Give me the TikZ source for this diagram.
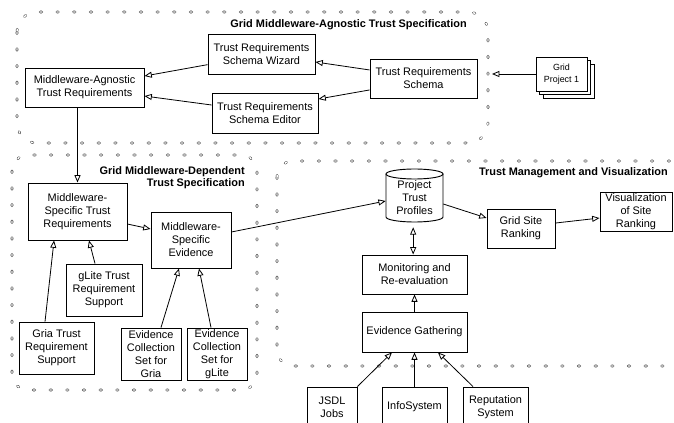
\documentclass[tikz,border=0pt]{standalone}
\usepackage{fontspec}
\setmainfont{Liberation Sans}
\usetikzlibrary{arrows.meta,calc}
\begin{document}
\begin{tikzpicture}[x=0.75pt,y=-0.75pt,
  txt/.style={font=\fontsize{8.2}{9.75}\selectfont},
  bx/.style 2 args={draw,line width=0.7pt,inner sep=0pt,align=center,fill=white,
    txt,minimum width=#1,minimum height=#2},
  ttl/.style={font=\fontsize{8.2}{8.8}\selectfont\bfseries,align=right,inner sep=0pt},
  conn/.style={line width=0.6pt,-{Triangle[open,length=5.5pt,width=4.5pt]}},
  biconn/.style={line width=0.6pt,{Triangle[open,length=5.5pt,width=4.5pt]}-{Triangle[open,length=5.5pt,width=4.5pt]}},
  dotbox/.style={draw=white,line width=1.1pt,line cap=round,dash pattern=on 1.2pt off 11.3pt,
    preaction={draw=black!80,line width=1.9pt,line cap=round,dash pattern=on 1.2pt off 11.3pt}}
]
\useasboundingbox (0,0) rectangle (674,423);
\clip (0,0) rectangle (674,423);

% dotted regions
\path[dotbox,rounded corners=15pt] (17,12) rectangle (488,143);
\path[dotbox,rounded corners=12pt] (12,155) rectangle (257,390);
\path[dotbox,rounded corners=12pt] (277,161) rectangle (720,366);

% titles
\node[ttl,anchor=east] (t1) at (467,25) {Grid Middleware-Agnostic Trust Specification};
\node[ttl,anchor=east] (t2) at (245,177.5) {Grid Middleware-Dependent\\Trust Specification};
\node[ttl,anchor=east] (t3) at (668,173) {Trust Management and Visualization};

% top region
\node[bx={80.25pt}{30pt}] (wiz) at (261.5,54) {Trust Requirements\\Schema Wizard};
\node[bx={79.5pt}{30pt}] (edit) at (265,113) {Trust Requirements\\Schema Editor};
\node[bx={89.25pt}{29.25pt}] (mat) at (84.5,87.5) {Middleware-Agnostic\\Trust Requirements};
\node[bx={80.25pt}{29.25pt}] (schema) at (423.5,78.5) {Trust Requirements\\Schema};

% grid project stack
\draw[line width=0.7pt,fill=white] (543,64) rectangle (594,98);
\draw[line width=0.7pt,fill=white] (539.5,60.5) rectangle (590.5,94.5);
\node[bx={38.25pt}{25.5pt},font=\fontsize{6.7}{8.7}\selectfont] (gp) at (561.5,74) {Grid\\Project 1};
\coordinate (gpin) at (492,74);

% middle-left region
\node[bx={74.25pt}{42.75pt}] (mstr) at (77.5,211.5) {Middleware-\\Specific Trust\\Requirements};
\node[bx={60pt}{42pt}] (mse) at (191,240) {Middleware-\\Specific\\Evidence};
\node[bx={57pt}{39pt}] (glite) at (104,290) {gLite Trust\\Requirement\\Support};
\node[bx={56.25pt}{39pt}] (gria) at (56.5,348) {Gria Trust\\Requirement\\Support};
\node[bx={45pt}{39pt}] (ecgria) at (151,354) {Evidence\\Collection\\Set for\\Gria};
\node[bx={45pt}{39pt}] (ecglite) at (217,354) {Evidence\\Collection\\Set for\\gLite};

% right region
\node[inner sep=0pt,minimum width=42.75pt,minimum height=37.5pt,align=center,txt] (ptp) at (414.5,198) {Project\\Trust\\Profiles};
\draw[line width=0.7pt] (386,174) -- (386,217) arc[start angle=180,end angle=360,x radius=21.375pt,y radius=3.75pt] -- (443,174);
\draw[line width=0.7pt] (414.5,174) ellipse [x radius=21.375pt,y radius=3.75pt];
\node[bx={51pt}{29.25pt}] (gsr) at (521,228.5) {Grid Site\\Ranking};
\node[bx={54pt}{29.25pt}] (vis) at (636,211.5) {Visualization\\of Site\\Ranking};
\node[bx={78.75pt}{29.25pt}] (mon) at (414.5,274.5) {Monitoring and\\Re-evaluation};
\node[bx={78.75pt}{30pt}] (eg) at (414.5,332) {Evidence Gathering};
\node[bx={37.5pt}{30pt}] (jsdl) at (332,407) {JSDL\\Jobs};
\node[bx={48.75pt}{30pt}] (info) at (414.5,407) {InfoSystem};
\node[bx={48.75pt}{30pt}] (rep) at (495.5,407) {Reputation\\System};

% connectors
\draw[conn] ([yshift=-8pt]wiz.west) -- ([yshift=8.6pt]mat.east);
\draw[conn] ([yshift=6pt]edit.west) -- ([yshift=-6.4pt]mat.east);
\draw[conn] ([yshift=6.4pt]schema.west) -- ([yshift=-6pt]wiz.east);
\draw[conn] ([yshift=-8.6pt]schema.west) -- ([yshift=10.5pt]edit.east);
\draw[conn] (gp.west) -- (gpin);
\draw[conn] (mat.south -| mstr.north) -- (mstr.north);
\draw[conn] ([yshift=-9.4pt]mstr.east) -- ([yshift=8.25pt]mse.west);
\draw[conn] ([xshift=-6.75pt]glite.north) -- ([xshift=8.6pt]mstr.south);
\draw[conn] ([xshift=-8.6pt]gria.north) -- ([xshift=-17.6pt]mstr.south);
\draw[conn] ([xshift=7.5pt]ecgria.north) -- ([xshift=-9pt]mse.south);
\draw[conn] ([xshift=-4.5pt]ecglite.north) -- ([xshift=6pt]mse.south);
\draw[conn] ([yshift=6pt]mse.east) -- ([yshift=-2.25pt]ptp.west);
\draw[conn] ([yshift=-4.5pt]ptp.east) -- ([yshift=7.9pt]gsr.west);
\draw[conn] ([yshift=4.1pt]gsr.east) -- ([yshift=-4.9pt]vis.west);
\draw[biconn] ([xshift=-1pt,yshift=-3pt]ptp.south) -- ([xshift=-1pt]mon.north);
\draw[conn] (eg.north) -- (mon.south);
\draw[conn] (jsdl.north east) -- ([xshift=-16.9pt]eg.south);
\draw[conn] (info.north) -- (eg.south);
\draw[conn] ([xshift=-16.9pt]rep.north) -- ([xshift=17.6pt]eg.south);
\end{tikzpicture}
\end{document}
